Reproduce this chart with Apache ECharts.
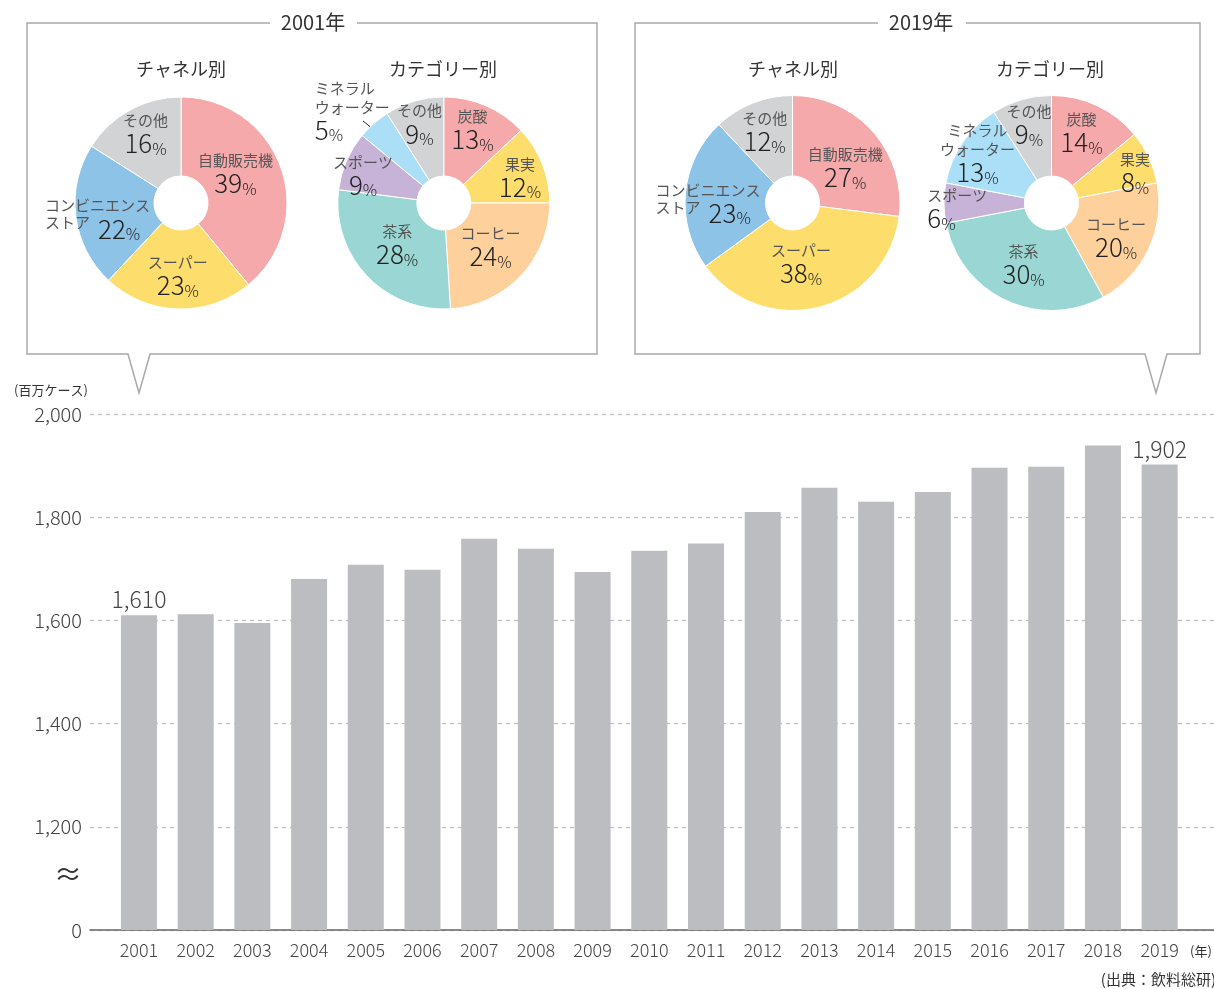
<!DOCTYPE html>
<html>
<head>
<meta charset="utf-8">
<script src="https://cdn.jsdelivr.net/npm/echarts@6/dist/echarts.min.js"></script>
<style>
  html, body { margin: 0; padding: 0; background: #fff; }
  #chart { width: 1214px; height: 989px; }
</style>
</head>
<body>
<div id="chart"></div>
<script>
// bar chart data (百万ケース)
var years = ['2001','2002','2003','2004','2005','2006','2007','2008','2009','2010',
             '2011','2012','2013','2014','2015','2016','2017','2018','2019'];
var volume = [1610,1612,1595,1680,1708,1698,1758,1739,1694,1735,
              1749,1810,1857,1830,1849,1896,1898,1939,1902];
var yTicks = [0, 1200, 1400, 1600, 1800, 2000];

// pie data (%)
var channelNames = ['自動販売機','スーパー','コンビニエンスストア','その他'];
var channel2001 = [39,23,22,16];
var channel2019 = [27,38,23,12];
var categoryNames = ['炭酸','果実','コーヒー','茶系','スポーツ','ミネラルウォーター','その他'];
var category2001 = [13,12,24,28,9,5,9];
var category2019 = [14,8,20,30,6,13,9];

var chart = echarts.init(document.getElementById('chart'));
var FONT = '"Noto Sans CJK JP", "Noto Sans", sans-serif';

var channelColors = ['#f5a9ab','#fddd6b','#8ec3e8','#d2d3d5'];
var categoryColors = ['#f5a9ab','#fddd6b','#fdd09c','#9ad6d3','#c8b3d8','#abdff7','#d2d3d5'];

// label nudges from the default inside position [dx, dy, align]
var nudge = [
  [[-11,-5.5],[-1,3],[-67,7.5,'left'],[-2,-8]],
  [[1,-9.5],[11.5,0],[-4,-4],[4,-5.5],[-17,0],[-83,-40,'left'],[-5,-12]],
  [[0,11],[-9,-7.5],[-67,7,'left'],[-2,-6]],
  [[0,-7],[20,0],[1,5],[2,-2],[-54,6,'left'],[-16,-10],[-3,-11]]
];

var breakName = {'ミネラルウォーター': 'ミネラル\nウォーター'};

function pieLabel(p) {
  if (p.name === 'コンビニエンスストア') {
    return '{n|コンビニエンス}\n{s|ストア}{g|}{v|' + p.value + '}{p|%}';
  }
  var nm = breakName[p.name] || p.name;
  return nm.split('\n').map(function (t) { return '{n|' + t + '}'; }).join('\n') +
    '\n{v|' + p.value + '}{p|%}';
}

var rich = {
  n: { fontSize: 15, color: '#555', lineHeight: 19, fontFamily: FONT },
  s: { fontSize: 15, color: '#555', lineHeight: 27, verticalAlign: 'top', fontFamily: FONT },
  g: { width: 8 },
  v: { fontSize: 26, color: '#222', lineHeight: 27, fontWeight: 300, fontFamily: FONT },
  p: { fontSize: 16, color: '#222', lineHeight: 23, verticalAlign: 'bottom', fontWeight: 300, fontFamily: FONT }
};

function makePie(idx, names, values, colors, center, outer) {
  return {
    type: 'pie',
    center: center,
    radius: [27, outer],
    startAngle: 90,
    clockwise: true,
    silent: true,
    itemStyle: { borderColor: '#fff', borderWidth: 1 },
    label: { show: true, position: 'inside', formatter: pieLabel, rich: rich },
    labelLine: { show: false },
    labelLayout: function (params) {
      var t = nudge[idx][params.dataIndex];
      var o = { dx: t[0], dy: t[1] };
      if (t[2]) o.align = t[2];
      return o;
    },
    data: names.map(function (n, i) {
      return { name: n, value: values[i], itemStyle: { color: colors[i] } };
    })
  };
}

function boxText(x, y, txt, size, align) {
  return {
    type: 'text', x: x, y: y, silent: true,
    style: { text: txt, fontSize: size, fill: '#333', align: align || 'center',
             verticalAlign: 'middle', fontFamily: FONT }
  };
}

var boxStroke = { stroke: '#a9a9ab', lineWidth: 1.5, fill: null };

var option = {
  animation: false,
  textStyle: { fontFamily: FONT },
  grid: [
    { left: 90, right: 0, top: 414, bottom: 59 },
    { left: 110.6, right: 26, top: 414, bottom: 59 }
  ],
  xAxis: [
    { type: 'value', gridIndex: 0, min: 0, max: 1,
      axisLine: { show: true, onZero: false, lineStyle: { color: '#666', width: 1.5 } },
      axisTick: { show: false }, axisLabel: { show: false }, splitLine: { show: false } },
    { type: 'category', gridIndex: 1, data: years,
      axisLine: { show: false }, axisTick: { show: false },
      axisLabel: { color: '#444', fontSize: 18, fontWeight: 300, margin: 11, fontFamily: FONT } }
  ],
  yAxis: [
    { type: 'value', gridIndex: 0, min: 1000, max: 2000, interval: 200,
      axisLine: { show: false }, axisTick: { show: false },
      axisLabel: { color: '#444', fontSize: 20, fontWeight: 300, margin: 8, fontFamily: FONT,
        formatter: function (v) {
          var shown = yTicks[(v - 1000) / 200];
          return shown === undefined ? '' : shown.toLocaleString('en-US');
        } },
      splitLine: { lineStyle: { color: '#bdbdbd', type: [4, 4], width: 1.2 } } },
    { type: 'value', gridIndex: 1, min: 1000, max: 2000, show: false }
  ],
  series: [
    {
      type: 'bar', xAxisIndex: 1, yAxisIndex: 1,
      barWidth: 36,
      itemStyle: { color: '#bcbdc1' },
      data: volume.map(function (v, i) {
        var edge = (i === 0 || i === volume.length - 1);
        return { value: v, label: { show: edge } };
      }),
      label: {
        position: 'top', distance: 4, fontSize: 23, fontWeight: 300, color: '#444', fontFamily: FONT,
        formatter: function (p) { return p.value.toLocaleString('en-US'); }
      }
    },
    makePie(0, channelNames, channel2001, channelColors, [181, 203], 106),
    makePie(1, categoryNames, category2001, categoryColors, [443.8, 203], 106),
    makePie(2, channelNames, channel2019, channelColors, [792.5, 203], 107.5),
    makePie(3, categoryNames, category2019, categoryColors, [1051.5, 203], 107.5)
  ],
  graphic: [
    { type: 'polyline', silent: true, style: boxStroke,
      shape: { points: [[270,23],[27,23],[27,354],[128,354],[139,393],[150,354],[597,354],[597,23],[357,23]] } },
    { type: 'polyline', silent: true, style: boxStroke,
      shape: { points: [[878,23],[635,23],[635,354],[1145,354],[1156,393],[1167,354],[1200,354],[1200,23],[966,23]] } },
    boxText(313, 22, '2001年', 20),
    boxText(921, 22, '2019年', 20),
    boxText(181, 69, 'チャネル別', 18),
    boxText(443, 69, 'カテゴリー別', 18),
    boxText(793, 69, 'チャネル別', 18),
    boxText(1050, 69, 'カテゴリー別', 18),
    { type: 'line', silent: true, shape: { x1: 363, y1: 121, x2: 378, y2: 133 },
      style: { stroke: '#333', lineWidth: 1 } },
    boxText(14, 390, '(百万ケース)', 13, 'left'),
    boxText(68, 874, '≈', 28),
    boxText(1190, 951, '(年)', 13, 'left'),
    boxText(1216, 979, '(出典：飲料総研)', 15, 'right')
  ]
};

chart.setOption(option);
</script>
</body>
</html>
